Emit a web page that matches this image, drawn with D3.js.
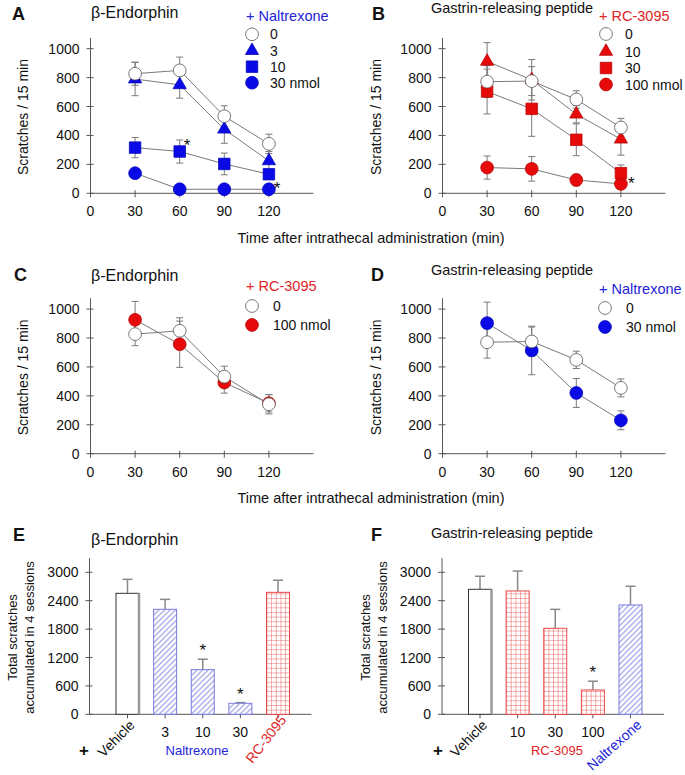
<!DOCTYPE html>
<html><head><meta charset="utf-8">
<script src="https://cdn.jsdelivr.net/npm/d3@7"></script>
<style>
body{margin:0;background:#fff;}
svg{display:block;font-family:"Liberation Sans",Arial,Helvetica,sans-serif;}
</style></head>
<body>
<svg id="chart" width="685" height="775"></svg>
<script>
// ---------------- DATA ----------------
const times = [30, 60, 90, 120];
const xTicks = [0, 30, 60, 90, 120];
const yTicksLine = [0, 200, 400, 600, 800, 1000];
const yTicksBar = [0, 600, 1200, 1800, 2400, 3000];

// Panel A: beta-endorphin + naltrexone
const A_veh = [827, 850, 533, 342];   const A_veh_err = [80, 92, 72, 67];
const A_n3  = [790, 750, 443, 224];   const A_n3_err  = [115, 92, 97, 65];
const A_n10 = [316, 289, 203, 132];   const A_n10_err = [70, 80, 75, 20];
const A_n30 = [139, 28, 28, 28];      const A_n30_err = [10, 5, 5, 5];
const A_labels = ["0", "3", "10", "30 nmol"];

// Panel B: GRP + RC-3095
const B_veh  = [772, 776, 649, 455];  const B_veh_err  = [110, 100, 60, 63];
const B_r10  = [912, 785, 547, 374];  const B_r10_err  = [130, 140, 60, 110];
const B_r30  = [704, 584, 370, 139];  const B_r30_err  = [155, 190, 110, 57];
const B_r100 = [178, 169, 92, 65];    const B_r100_err = [80, 85, 40, 15];
const B_labels = ["0", "10", "30", "100 nmol"];

// Panel C: beta-endorphin + RC-3095
const C_veh  = [827, 850, 533, 342];  const C_veh_err  = [80, 90, 72, 67];
const C_r100 = [926, 757, 492, 349];  const C_r100_err = [127, 160, 73, 60];
const C_labels = ["0", "100 nmol"];

// Panel D: GRP + naltrexone
const D_veh = [771, 776, 649, 455];   const D_veh_err = [110, 100, 60, 62];
const D_n30 = [903, 714, 420, 231];   const D_n30_err = [145, 168, 100, 65];
const D_labels = ["0", "30 nmol"];

// Panel E: totals, beta-endorphin
const E_cats = ["Vehicle", "3", "10", "30", "RC-3095"];
const E_vals = [2556, 2218, 944, 232, 2577];
const E_errs = [295, 210, 220, 15, 255];
const E_sig  = [false, false, true, true, false];

// Panel F: totals, GRP
const F_cats = ["Vehicle", "10", "30", "100", "Naltrexone"];
const F_vals = [2641, 2606, 1817, 514, 2310];
const F_errs = [275, 420, 400, 185, 395];
const F_sig  = [false, false, false, true, false];

// significance stars on line panels [time, value]
const A_stars = [[65, 354], [125.5, 57]];
const B_stars = [[127, 93]];

// ---------------- STYLE ----------------
const BLUE = "#0a0ae6", RED = "#e60a0a", TBLUE = "#2323d8", TRED = "#e02424";
const GRAY = "#7a7a7a", AX = "#555";
const svg = d3.select("#chart");
const defs = svg.append("defs");

function txt(g, x, y, s, o = {}) {
  const t = g.append("text").attr("x", x).attr("y", y).text(s)
    .attr("font-size", o.size || 14).attr("fill", o.fill || "#111")
    .attr("text-anchor", o.anchor || "start");
  if (o.bold) t.attr("font-weight", "bold");
  if (o.rot != null) t.attr("transform", `rotate(${o.rot},${x},${y})`);
  return t;
}

function marker(g, type, x, y, color) {
  const sym = { circle: [d3.symbolCircle, 128], tri: [d3.symbolTriangle, 76], sq: [d3.symbolSquare, 132], open: [d3.symbolCircle, 128] }[type];
  g.append("path").attr("d", d3.symbol().type(sym[0]).size(sym[1])())
    .attr("transform", `translate(${x},${y})`)
    .attr("fill", type === "open" ? "#fff" : color)
    .attr("stroke", type === "open" ? "#555" : d3.color(color).darker(0.6))
    .attr("stroke-width", 0.8);
}

function linePanel(cfg) {
  const x = d3.scaleLinear().domain([0, 150]).range([cfg.ax, cfg.ax + 223]);
  const y = d3.scaleLinear().domain([0, 1000]).range([cfg.y0, cfg.y0 - 144.6]);
  const g = svg.append("g");
  g.append("line").attr("x1", x(0)).attr("x2", x(150)).attr("y1", y(0)).attr("y2", y(0)).attr("stroke", AX);
  g.append("line").attr("x1", x(0)).attr("x2", x(0)).attr("y1", y(0)).attr("y2", y(1075)).attr("stroke", AX);
  yTicksLine.forEach(v => {
    g.append("line").attr("x1", x(0) - 4).attr("x2", x(0) + 3).attr("y1", y(v)).attr("y2", y(v)).attr("stroke", AX);
    txt(g, x(0) - 11, y(v) + 5, v, { anchor: "end" });
  });
  xTicks.forEach(v => {
    g.append("line").attr("x1", x(v)).attr("x2", x(v)).attr("y1", y(0) - 3).attr("y2", y(0) + 4).attr("stroke", AX);
    txt(g, x(v), y(0) + 23, v, { anchor: "middle" });
  });
  txt(g, cfg.ylabX, (y(0) + y(1000)) / 2 - 4, "Scratches / 15 min", { anchor: "middle", rot: -90 });
  const line = d3.line().x((d, i) => x(times[i])).y(d => y(d));
  cfg.series.forEach(s => g.append("path").attr("d", line(s.v)).attr("fill", "none").attr("stroke", GRAY).attr("stroke-width", 1));
  cfg.series.forEach(s => s.v.forEach((v, i) => {
    const cx = x(times[i]), e = s.e[i];
    g.append("line").attr("x1", cx).attr("x2", cx).attr("y1", y(v - e)).attr("y2", y(v + e)).attr("stroke", GRAY);
    [v - e, v + e].forEach(w => g.append("line").attr("x1", cx - 3.5).attr("x2", cx + 3.5).attr("y1", y(w)).attr("y2", y(w)).attr("stroke", GRAY));
  }));
  cfg.series.slice().reverse().forEach(s => s.v.forEach((v, i) => marker(g, s.m, x(times[i]), y(v), s.c)));
  (cfg.stars || []).forEach(st => txt(g, x(st[0]), y(st[1]) + 9, "*", { size: 17, anchor: "middle" }));
  txt(g, cfg.lx, cfg.ly0, cfg.legTitle, { fill: cfg.legColor, size: 14.5 });
  cfg.series.forEach((s, i) => {
    const ly = cfg.lrows[i];
    marker(g, s.m, cfg.lsx, ly, s.c);
    txt(g, cfg.ltx, ly + 5, s.lab);
  });
}

linePanel({ ax: 90.5, y0: 193.3, ylabX: 28,
  series: [
    { v: A_veh, e: A_veh_err, m: "open", c: "#fff", lab: A_labels[0] },
    { v: A_n3, e: A_n3_err, m: "tri", c: BLUE, lab: A_labels[1] },
    { v: A_n10, e: A_n10_err, m: "sq", c: BLUE, lab: A_labels[2] },
    { v: A_n30, e: A_n30_err, m: "circle", c: BLUE, lab: A_labels[3] }],
  stars: A_stars, legTitle: "+ Naltrexone", legColor: TBLUE, lx: 246, ly0: 21,
  lsx: 252, ltx: 270, lrows: [34.3, 50.7, 66.7, 82.7] });
linePanel({ ax: 442.5, y0: 193.3, ylabX: 381,
  series: [
    { v: B_veh, e: B_veh_err, m: "open", c: "#fff", lab: B_labels[0] },
    { v: B_r10, e: B_r10_err, m: "tri", c: RED, lab: B_labels[1] },
    { v: B_r30, e: B_r30_err, m: "sq", c: RED, lab: B_labels[2] },
    { v: B_r100, e: B_r100_err, m: "circle", c: RED, lab: B_labels[3] }],
  stars: B_stars, legTitle: "+ RC-3095", legColor: TRED, lx: 599, ly0: 21,
  lsx: 606, ltx: 625, lrows: [34, 51.5, 68, 84.5] });
linePanel({ ax: 90.5, y0: 453.7, ylabX: 28,
  series: [
    { v: C_veh, e: C_veh_err, m: "open", c: "#fff", lab: C_labels[0] },
    { v: C_r100, e: C_r100_err, m: "circle", c: RED, lab: C_labels[1] }],
  legTitle: "+ RC-3095", legColor: TRED, lx: 246, ly0: 291,
  lsx: 252, ltx: 273, lrows: [306, 325] });
linePanel({ ax: 442.5, y0: 453.7, ylabX: 381,
  series: [
    { v: D_veh, e: D_veh_err, m: "open", c: "#fff", lab: D_labels[0] },
    { v: D_n30, e: D_n30_err, m: "circle", c: BLUE, lab: D_labels[1] }],
  legTitle: "+ Naltrexone", legColor: TBLUE, lx: 599, ly0: 294,
  lsx: 605, ltx: 626, lrows: [308, 327] });

const T = svg.append("g");
txt(T, 12, 20, "A", { bold: true, size: 18 });
txt(T, 372, 20, "B", { bold: true, size: 18 });
txt(T, 14, 281, "C", { bold: true, size: 18 });
txt(T, 371, 281, "D", { bold: true, size: 18 });
txt(T, 13, 541, "E", { bold: true, size: 18 });
txt(T, 371, 541, "F", { bold: true, size: 18 });
txt(T, 91, 18, "β-Endorphin", { size: 16 });
txt(T, 431, 13, "Gastrin-releasing peptide", { size: 14.5 });
txt(T, 91, 281, "β-Endorphin", { size: 16 });
txt(T, 431, 275, "Gastrin-releasing peptide", { size: 14.5 });
txt(T, 91, 545, "β-Endorphin", { size: 16 });
txt(T, 431, 538, "Gastrin-releasing peptide", { size: 14.5 });
txt(T, 371, 243, "Time after intrathecal administration (min)", { anchor: "middle", size: 14.5 });
txt(T, 371, 503, "Time after intrathecal administration (min)", { anchor: "middle", size: 14.5 });

let patId = 0;
function pattern(kind, bx, by) {
  const id = "p" + (patId++);
  if (kind === "hatch") {
    const p = defs.append("pattern").attr("id", id).attr("patternUnits", "userSpaceOnUse")
      .attr("width", 5.5).attr("height", 5.5).attr("x", bx).attr("y", by);
    p.append("rect").attr("width", 5.5).attr("height", 5.5).attr("fill", "#fff");
    p.append("path").attr("d", "M-1,6.5 L6.5,-1 M-1,1 L1,-1 M4.5,6.5 L6.5,4.5").attr("stroke", "#8a8ae6").attr("stroke-width", 1);
  } else {
    const s = 4.65;
    const p = defs.append("pattern").attr("id", id).attr("patternUnits", "userSpaceOnUse")
      .attr("width", s).attr("height", s).attr("x", bx).attr("y", by);
    p.append("rect").attr("width", s).attr("height", s).attr("fill", "#fff");
    p.append("path").attr("d", `M0,0 L0,${s} M0,0 L${s},0`).attr("stroke", "#ec5a5a").attr("stroke-width", 1);
  }
  return `url(#${id})`;
}

function barPanel(cfg) {
  const x = d3.scalePoint().domain(cfg.cats).range([cfg.c0, cfg.c0 + 150.5]);
  const y = d3.scaleLinear().domain([0, 3000]).range([714.3, 572.3]);
  const g = svg.append("g");
  const bw = 23;
  g.append("line").attr("x1", cfg.ax).attr("x2", cfg.ax + 222).attr("y1", y(0)).attr("y2", y(0)).attr("stroke", AX);
  g.append("line").attr("x1", cfg.ax).attr("x2", cfg.ax).attr("y1", y(0)).attr("y2", y(3300)).attr("stroke", AX);
  yTicksBar.forEach(v => {
    g.append("line").attr("x1", cfg.ax - 4).attr("x2", cfg.ax + 3).attr("y1", y(v)).attr("y2", y(v)).attr("stroke", AX);
    txt(g, cfg.ax - 11, y(v) + 5, v, { anchor: "end" });
  });
  cfg.cats.forEach(c => g.append("line").attr("x1", x(c)).attr("x2", x(c)).attr("y1", y(0) - 3).attr("y2", y(0) + 4).attr("stroke", AX));
  const ym = 637.5;
  txt(g, cfg.yl1, ym, "Total scratches", { anchor: "middle", rot: -90, size: 13 });
  txt(g, cfg.yl2, ym, "accumulated in 4 sessions", { anchor: "middle", rot: -90, size: 13 });
  cfg.cats.forEach((c, i) => {
    const v = cfg.vals[i], e = cfg.errs[i], cx = x(c), kind = cfg.kinds[i];
    g.append("line").attr("x1", cx).attr("x2", cx).attr("y1", y(v)).attr("y2", y(v + e)).attr("stroke", "#888").attr("stroke-width", 1.5);
    g.append("line").attr("x1", cx - 5).attr("x2", cx + 5).attr("y1", y(v + e)).attr("y2", y(v + e)).attr("stroke", "#888").attr("stroke-width", 1.5);
    const bx = cx - bw / 2, by = y(v), bh = y(0) - y(v);
    if (kind === "veh") {
      g.append("rect").attr("x", bx).attr("y", by).attr("width", bw).attr("height", bh).attr("fill", "#fff").attr("stroke", "#333").attr("stroke-width", 1);
      g.append("line").attr("x1", bx + bw).attr("x2", bx + bw).attr("y1", by).attr("y2", y(0)).attr("stroke", "#999").attr("stroke-width", 2.5);
    } else if (kind === "nal") {
      g.append("rect").attr("x", bx).attr("y", by).attr("width", bw).attr("height", bh).attr("fill", pattern("hatch", bx, y(0))).attr("stroke", "#7a7ae0").attr("stroke-width", 1);
    } else {
      g.append("rect").attr("x", bx).attr("y", by).attr("width", bw).attr("height", bh).attr("fill", pattern("grid", bx, y(0))).attr("stroke", "#e84848").attr("stroke-width", 1);
    }
    if (cfg.sig[i]) txt(g, cx, y(v + e) - 3, "*", { size: 17, anchor: "middle" });
  });
  cfg.cats.forEach((c, i) => {
    const lab = cfg.labs[i];
    if (lab.rot != null) txt(g, x(c) + lab.dx, 724 + lab.dy, c, { anchor: "end", rot: lab.rot, fill: lab.fill, size: lab.size || 14 });
    else txt(g, x(c), 737, c, { anchor: "middle" });
  });
  txt(g, cfg.plusX, 756, "+", { bold: true, size: 17, anchor: "middle" });
  txt(g, cfg.grpX, 755, cfg.grpLab, { anchor: "middle", fill: cfg.grpFill, size: 13 });
}

barPanel({ cats: E_cats, vals: E_vals, errs: E_errs, sig: E_sig, ax: 89.5, c0: 127.5, yl1: 17, yl2: 34,
  kinds: ["veh", "nal", "nal", "nal", "rc"],
  labs: [{ rot: -45, dx: 8, dy: 2 }, {}, {}, {}, { rot: -52, dx: 9, dy: -4, fill: TRED }],
  plusX: 84, grpX: 197, grpLab: "Naltrexone", grpFill: TBLUE });
barPanel({ cats: F_cats, vals: F_vals, errs: F_errs, sig: F_sig, ax: 442, c0: 480, yl1: 370, yl2: 387,
  kinds: ["veh", "rc", "rc", "rc", "nal"],
  labs: [{ rot: -45, dx: 8, dy: 2 }, {}, {}, {}, { rot: -42, dx: 12, dy: 2, fill: TBLUE }],
  plusX: 438, grpX: 557, grpLab: "RC-3095", grpFill: TRED });
</script>
</body></html>
